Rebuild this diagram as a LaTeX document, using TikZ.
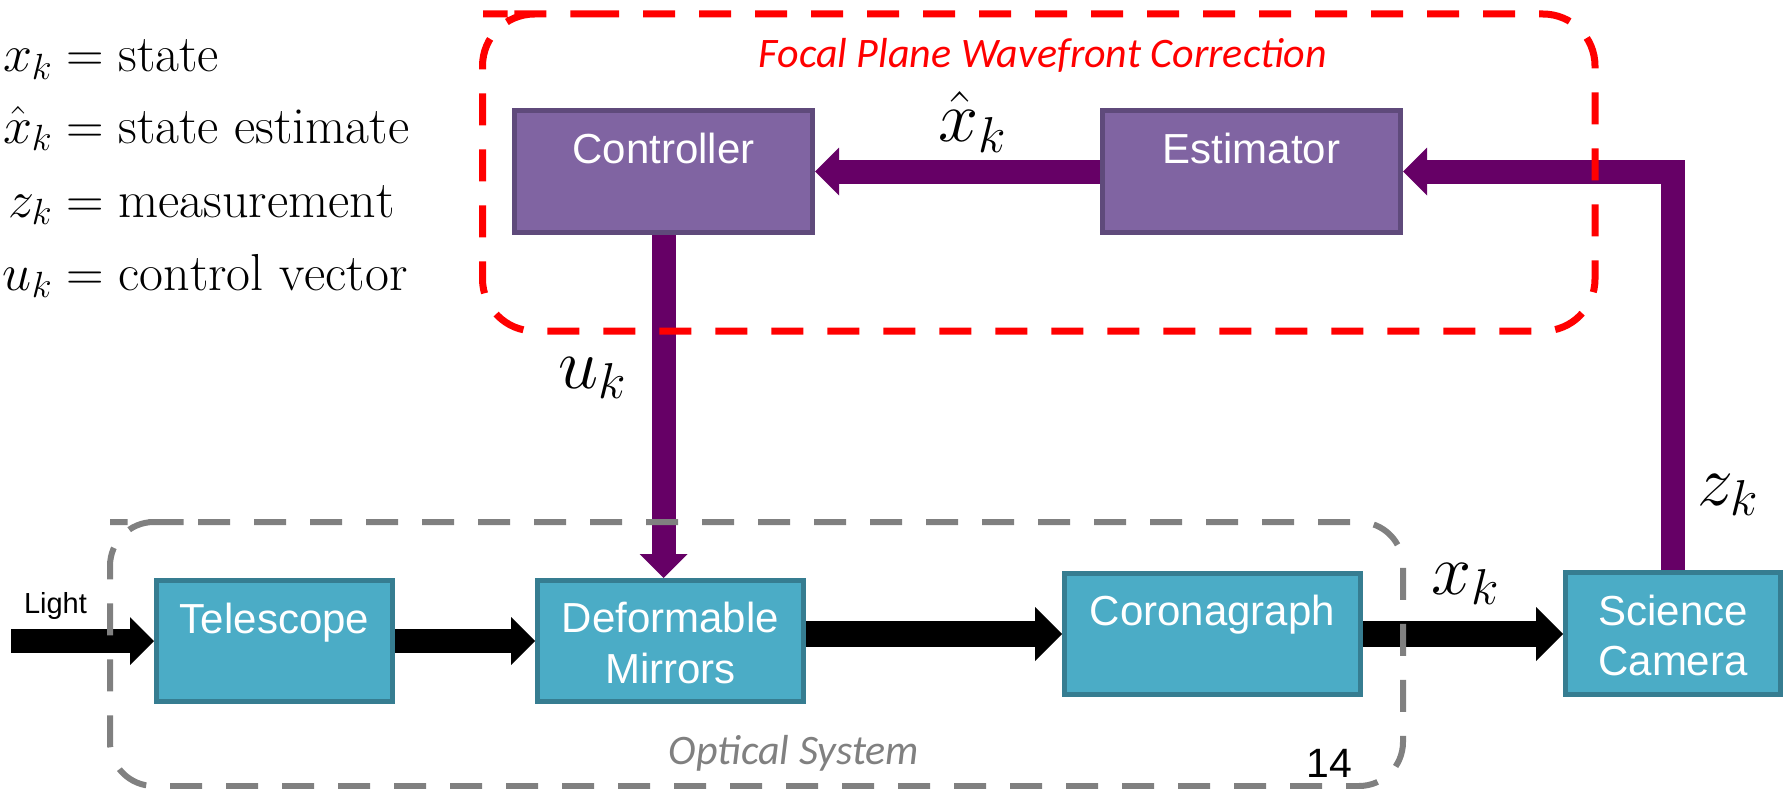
\RequirePackage{fix-cm}
\documentclass[tikz,border=0pt]{standalone}
\usepackage{fontspec}
\newfontfamily\boxfont{Liberation Sans}
\newfontfamily\capfont{Carlito}
\usetikzlibrary{arrows.meta,calc}

\definecolor{ctrlfill}{HTML}{8064A2}
\definecolor{ctrlline}{HTML}{5F4A7B}
\definecolor{optfill}{HTML}{4BACC6}
\definecolor{optline}{HTML}{367D91}
\definecolor{sig}{HTML}{660066}
\definecolor{framegray}{HTML}{808080}

\tikzset{
  blockbox/.style={rectangle, draw, line width=5pt, inner sep=0pt},
  fpbox/.style={blockbox, fill=ctrlfill, draw=ctrlline},
  osbox/.style={blockbox, fill=optfill, draw=optline},
  btxt/.style={text=white, inner sep=0pt, anchor=base,
    font=\boxfont\fontsize{42}{50}\selectfont},
  flow/.style={draw=black, line width=24pt,
    -{Triangle[length=24pt,width=48pt,line width=0pt]}},
  wideflow/.style={draw=black, line width=26pt,
    -{Triangle[length=27pt,width=54pt,line width=0pt]}},
  fbk/.style={draw=sig, line width=24pt,
    -{Triangle[length=24pt,width=48pt,line width=0pt]}},
  mlab/.style={inner sep=0pt, anchor=base, font=\fontsize{72}{80}\selectfont},
  lgd/.style={inner sep=0pt, anchor=base west, font=\fontsize{52}{60}\selectfont},
  grouplabel/.style={inner sep=0pt, anchor=base,
    font=\capfont\itshape\fontsize{42}{50}\selectfont},
  dashframe/.style={line width=7pt, dash pattern=on 32pt off 24pt}
}

\begin{document}
\begin{tikzpicture}[x=1pt, y=-1pt]
  \useasboundingbox (0,0) rectangle (1785,789);

  % legend
  \node[lgd] (lg1) at (2,72)  {\makebox[50pt][r]{$x_k$}${}=\mathrm{state}$};
  \node[lgd] (lg2) at (2,143) {\makebox[50pt][r]{$\hat{x}_k$}${}=\mathrm{state\ estimate}$};
  \node[lgd] (lg3) at (2,217) {\makebox[50pt][r]{$z_k$}${}=\mathrm{measurement}$};
  \node[lgd] (lg4) at (2,290) {\makebox[50pt][r]{$u_k$}${}=\mathrm{control\ vector}$};

  % focal plane wavefront correction blocks
  \node[fpbox, minimum width=298pt, minimum height=122pt] (ctrl) at (663.5,171.5) {};
  \node[fpbox, minimum width=298pt, minimum height=122pt] (est)  at (1251.5,171.5) {};
  \node[btxt] (ctrl-t) at ([yshift=-55pt]ctrl.north) {Controller};
  \node[btxt] (est-t)  at ([yshift=-55pt]est.north) {Estimator};

  % optical train blocks
  \node[osbox, minimum width=236pt, minimum height=121pt] (tel) at (274.5,641) {};
  \node[osbox, minimum width=266pt, minimum height=121pt] (dm)  at (670.5,641) {};
  \node[osbox, minimum width=296pt, minimum height=121pt] (cor) at (1212.5,634) {};
  \node[osbox, minimum width=215pt, minimum height=122pt] (cam) at (1673,633.5) {};
  \node[btxt] (tel-t)  at ([yshift=-55pt]tel.north) {Telescope};
  \node[btxt] (dm-t1)  at ([yshift=-54pt]dm.north) {Deformable};
  \node[btxt] (dm-t2)  at ([yshift=-105pt]dm.north) {Mirrors};
  \node[btxt] (cor-t)  at ([yshift=-54pt]cor.north) {Coronagraph};
  \node[btxt] (cam-t1) at ([yshift=-55pt]cam.north) {Science};
  \node[btxt] (cam-t2) at ([yshift=-105pt]cam.north) {Camera};

  % light path
  \coordinate (src) at (11,641);
  \draw[flow] (src) -- (tel.west);
  \draw[flow] (tel.east) -- (dm.west);
  \draw[wideflow] (dm.east |- cor.west) -- (cor.west);
  \draw[wideflow] (cor.east) -- (cor.east -| cam.west);

  % control loop
  \draw[fbk, line join=miter] (cam.north) |- (est.east);
  \draw[fbk] (est.west) -- (ctrl.east);
  \draw[fbk] (ctrl.south) -- (ctrl.south |- dm.north);

  % group frames
  \draw[dashframe, red, rounded corners=52pt]
    (535,14) -- (1595,14) -- (1595,331) -- (482.5,331) -- (482.5,14) -- cycle;
  \draw[dashframe, framegray, line width=6pt, rounded corners=44pt]
    (154,522) -- (1403,522) -- (1403,786) -- (110,786) -- (110,522) -- cycle;

  % labels
  \node[grouplabel, text=red] (fpwc) at (1043,68) {Focal Plane Wavefront Correction};
  \node[grouplabel, text=framegray] (opsys) at (794,764) {Optical System};
  \node[inner sep=0pt, anchor=base, font=\boxfont\fontsize{29}{34}\selectfont] (light) at (55.5,613) {Light};
  \node[inner sep=0pt, anchor=base, font=\boxfont\fontsize{41}{48}\selectfont] (pg) at (1329.5,777) {14};
  \node[mlab] (lxh) at (972,142) {$\hat{x}_k$};
  \node[mlab] (lu)  at (592,388) {$u_k$};
  \node[mlab] (lx)  at (1465,594) {$x_k$};
  \node[mlab] (lz)  at (1728,505) {$z_k$};
\end{tikzpicture}
\end{document}
